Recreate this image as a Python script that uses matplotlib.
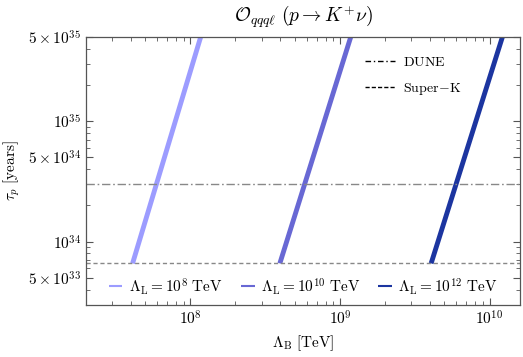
import matplotlib
matplotlib.use("Agg")
import matplotlib.pyplot as plt
from matplotlib.ticker import FixedLocator, LogLocator, NullFormatter
from matplotlib.lines import Line2D

plt.rcParams['mathtext.fontset'] = 'cm'
plt.rcParams['font.family'] = 'serif'
plt.rcParams['font.serif'] = ['DejaVu Serif']

# data
labels = [r'$\Lambda_{\rm L} = 10^{8}\ \mathrm{TeV}$',
          r'$\Lambda_{\rm L} = 10^{10}\ \mathrm{TeV}$',
          r'$\Lambda_{\rm L} = 10^{12}\ \mathrm{TeV}$']
line1_x = [4.1e7, 1.17e8]
line2_x = [3.96e8, 1.18e9]
line3_x = [4.07e9, 1.22e10]
line_y = [6.6e33, 5e35]
dune_bound = 3.0e34
superk_bound = 6.6e33
colors = ['#9c9cff', '#6868d4', '#1c35a0']

fig = plt.figure(figsize=(5.23, 3.57), dpi=100)
ax = fig.add_axes([0.1644, 0.1457, 0.8299, 0.7507])

for xs, c, lab in zip([line1_x, line2_x, line3_x], colors, labels):
    ax.plot(xs, line_y, color=c, lw=3.5, solid_capstyle='butt', label=lab)

ax.axhline(dune_bound, color='#888888', lw=1.0, ls=(0, (6, 2, 1.2, 2)))
ax.axhline(superk_bound, color='#888888', lw=1.0, ls=(0, (3, 2)))

ax.set_xscale('log')
ax.set_yscale('log')
ax.set_xlim(2.0e7, 1.6e10)
ax.set_ylim(2.98e33, 5e35)

ax.xaxis.set_major_locator(FixedLocator([1e8, 1e9, 1e10]))
ax.set_xticklabels([r'$10^{8}$', r'$10^{9}$', r'$10^{10}$'])
ax.xaxis.set_minor_locator(LogLocator(base=10, subs=range(2, 10), numticks=20))
ax.xaxis.set_minor_formatter(NullFormatter())

yt = [5e33, 1e34, 5e34, 1e35, 5e35]
ax.yaxis.set_major_locator(FixedLocator(yt))
ax.set_yticklabels([r'$5\times10^{33}$', r'$10^{34}$', r'$5\times10^{34}$',
                    r'$10^{35}$', r'$5\times10^{35}$'])
ax.yaxis.set_minor_locator(LogLocator(base=10, subs=range(2, 10), numticks=20))
ax.yaxis.set_minor_formatter(NullFormatter())

for s in ax.spines.values():
    s.set_color('#555555')
    s.set_linewidth(0.9)
ax.tick_params(which='both', direction='in', top=True, right=True,
               colors='#555555', labelcolor='black', labelsize=11)
ax.tick_params(which='major', length=5, width=0.8)
ax.tick_params(which='minor', length=3, width=0.6)

ax.set_xlabel(r'$\Lambda_{\rm B}\ [\mathrm{TeV}]$', fontsize=11, labelpad=4)
ax.set_ylabel(r'$\tau_p\ [\mathrm{years}]$', fontsize=11, labelpad=4)
ax.set_title(r'$\mathcal{O}_{qqq\ell}\ (p\to K^{+}\nu)$', fontsize=14, pad=10)

leg2 = ax.legend(loc='lower center', ncol=3, frameon=False, fontsize=11,
                 handlelength=0.9, handletextpad=0.4, columnspacing=1.2,
                 bbox_to_anchor=(0.5, -0.02))
for h in leg2.get_lines():
    h.set_linewidth(1.5)
ax.add_artist(leg2)

h1 = [Line2D([], [], color='black', lw=1.0, ls=(0, (4, 2, 1, 2))),
      Line2D([], [], color='black', lw=1.0, ls=(0, (3, 1.5)))]
ax.legend(h1, [r'$\mathrm{DUNE}$', r'$\mathrm{Super\!-\!K}$'], loc='upper right',
          frameon=False, fontsize=10, handlelength=2.2, handletextpad=0.6,
          labelspacing=0.9, bbox_to_anchor=(0.895, 0.98))

fig.savefig('out.png', dpi=100)
